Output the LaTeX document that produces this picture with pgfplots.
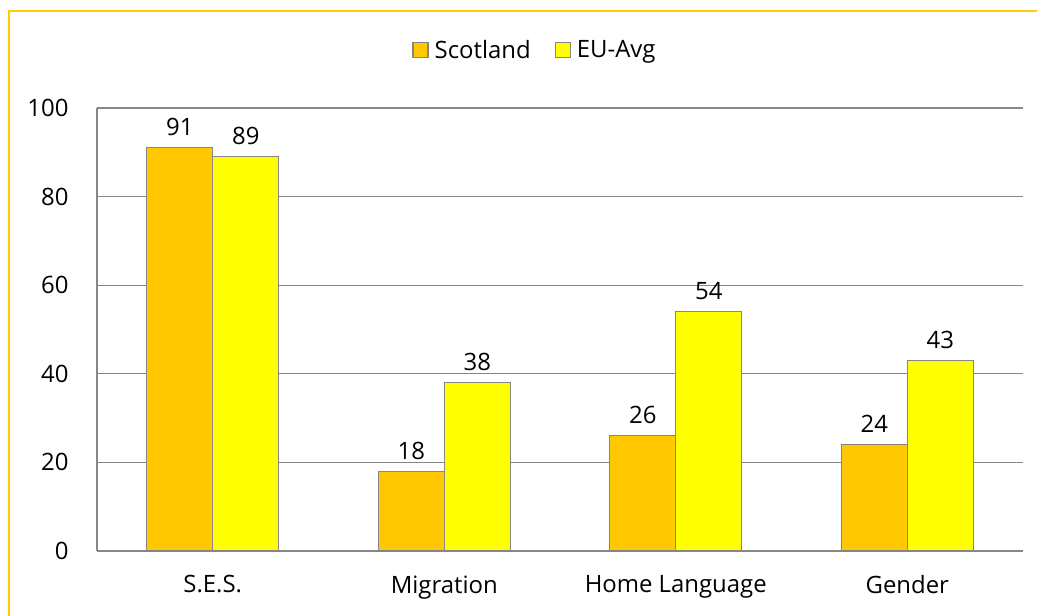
\documentclass[border=0pt]{standalone}
\usepackage{pgfplots}
\pgfplotsset{compat=1.18}
\usepackage{fontspec}
\setmainfont{Open Sans}
\definecolor{scot}{HTML}{FFC800}
\definecolor{eu}{HTML}{FFFF00}
\definecolor{edge}{HTML}{868686}
\definecolor{frame}{HTML}{FFCC00}
\newcommand\lbl{\fontsize{24}{28}\selectfont}
\begin{document}
\begin{tikzpicture}[x=1bp,y=1bp]
\useasboundingbox (-97,-65) rectangle (940,551);
\draw[frame, line width=2bp] (-88,-80) -- (-88,540) -- (960,540);
\begin{axis}[
    at={(0,0)}, anchor=south west,
    width=926bp, height=443bp,
    scale only axis,
    ybar=0pt,
    bar width=66bp,
    xmin=-0.5, xmax=3.5,
    ymin=0, ymax=100,
    xtick=data,
    xticklabels={S.E.S., Migration, Home Language, Gender},
    ytick={0,20,...,100},
    major tick length=0pt,
    axis x line*=bottom,
    axis y line*=left,
    axis line style={edge, line width=1.2bp, -},
    ymajorgrids=true,
    grid style={edge, line width=1.2bp},
    yticklabel style={font=\lbl, xshift=-25bp},
    xticklabel style={font=\lbl, yshift=-21bp},
    /pgf/number format/assume math mode=true,
    nodes near coords,
    every node near coord/.append style={font=\lbl, black, yshift=8bp},
    legend style={at={(438bp,501bp)}, anchor=center, draw=none, legend columns=2,
        font=\lbl,
        /tikz/every odd column/.append style={column sep=4bp},
        /tikz/every even column/.append style={column sep=22bp}},
    legend image code/.code={\draw[#1, draw=edge, line width=1.2bp] (0bp,-7.5bp) rectangle (15bp,7.5bp);},
]
\addplot[fill=scot, draw=edge, line width=1.2bp] coordinates {(0,91) (1,18) (2,26) (3,24)};
\addplot[fill=eu, draw=edge, line width=1.2bp] coordinates {(0,89) (1,38) (2,54) (3,43)};
\legend{Scotland, EU-Avg}
\end{axis}
\end{tikzpicture}
\end{document}
